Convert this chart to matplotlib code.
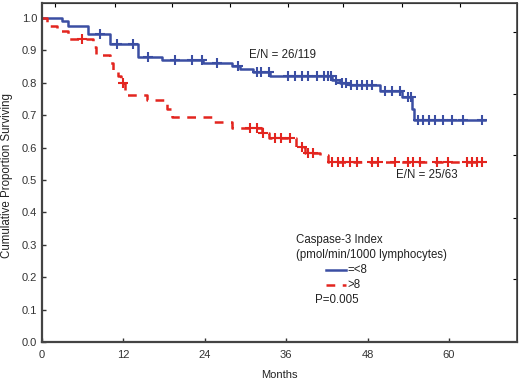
import numpy as np
import matplotlib
matplotlib.use("Agg")
import matplotlib.pyplot as plt

plt.rcParams["font.family"] = ["Liberation Sans", "DejaVu Sans"]

# Kaplan-Meier step data (months, proportion surviving)
low_t = [0, 2.9, 3.8, 6.8, 10.0, 14.2, 17.7, 23.8, 28.0, 29.2, 31.1, 33.6,
         42.7, 43.9, 45.4, 49.8, 53.1, 54.5, 54.8, 65.3]
low_s = [1.0, 0.99, 0.975, 0.95, 0.92, 0.88, 0.87, 0.86, 0.852, 0.842, 0.833,
         0.82, 0.81, 0.80, 0.793, 0.775, 0.755, 0.72, 0.685, 0.685]
low_cens = [8.5, 11.0, 13.4, 15.6, 19.6, 22.1, 23.6, 25.8, 28.9, 31.7, 32.3,
            33.4, 36.2, 37.3, 38.3, 39.2, 40.5, 41.5, 42.2, 42.6, 43.4, 44.2,
            44.8, 45.6, 46.4, 47.1, 47.9, 48.7, 50.6, 51.6, 52.8, 54.0, 54.4,
            55.4, 56.2, 57.0, 58.0, 59.1, 60.4, 62.0, 64.8]

high_t = [0, 0.7, 2.2, 3.8, 7.5, 8.0, 10.0, 10.5, 11.2, 11.6, 12.3, 15.5,
          18.4, 19.1, 25.2, 28.0, 32.5, 33.5, 37.5, 38.8, 41.0, 42.2, 64.8]
high_s = [1.0, 0.975, 0.96, 0.935, 0.91, 0.885, 0.86, 0.84, 0.82, 0.80, 0.762,
          0.747, 0.72, 0.694, 0.68, 0.66, 0.645, 0.63, 0.602, 0.583, 0.577,
          0.556, 0.556]
high_cens = [5.9, 11.9, 30.7, 31.7, 32.6, 34.3, 35.3, 36.6, 38.3, 39.2, 40.0,
             42.7, 43.6, 44.3, 45.4, 46.4, 48.6, 49.5, 52.0, 53.9, 54.7, 55.7,
             58.2, 59.8, 62.6, 63.4, 64.1, 64.8]

x_ticks = [0, 12, 24, 36, 48, 60]
y_ticks = [0.0, 0.1, 0.2, 0.3, 0.4, 0.5, 0.6, 0.7, 0.8, 0.9, 1.0]

BLUE = "#3b4ea3"
RED = "#e3251f"
TXT = "#222222"


def surv_at(times, steps, surv):
    idx = np.searchsorted(steps, times, side="right") - 1
    return np.asarray(surv)[idx]


fig = plt.figure(figsize=(5.2, 3.81), dpi=100)
ax = fig.add_axes([0.0808, 0.1024, 0.9132, 0.8896])

ax.step(low_t, low_s, where="post", color=BLUE, lw=1.8)
ax.plot(low_cens, surv_at(low_cens, low_t, low_s), "+", color=BLUE,
        ms=7, mew=1.5)
ax.step(high_t, high_s, where="post", color=RED, lw=1.8, dashes=(3.5, 3))
ax.plot(high_cens, surv_at(high_cens, high_t, high_s), "+", color=RED,
        ms=7, mew=1.5)

ax.set_xlim(0, 70)
ax.set_ylim(0, 1.046)
ax.set_xticks(x_ticks)
ax.set_yticks(y_ticks)
ax.set_yticklabels([f"{v:.1f}" for v in y_ticks])
ax.tick_params(direction="in", length=3, width=1, labelsize=8,
               colors="#333333")
ax.tick_params(axis="x", pad=6)
for side in ("left", "bottom"):
    ax.spines[side].set_linewidth(1.6)
    ax.spines[side].set_color("#444444")
for side in ("top", "right"):
    ax.spines[side].set_linewidth(1.2)
    ax.spines[side].set_color("#444444")

# secondary scales on top/right edges (unlabelled ticks as in original)
top = ax.secondary_xaxis("top")
top.set_xticks([1.9, 10.8, 19.2, 27.7, 36.2, 44.4, 53.1, 61.6])
top.tick_params(direction="in", length=3, labeltop=False)
right = ax.secondary_yaxis("right")
right.set_yticks([0.194, 0.383, 0.577, 0.765, 0.957])
right.tick_params(direction="in", length=3, labelright=False)

fig.text(0.014, 0.54, "Cumulative Proportion Surviving", rotation=90,
         ha="center", va="center", fontsize=8.3, color=TXT)
fig.text(0.537, 0.016, "Months", ha="center", va="center", fontsize=8,
         color=TXT)

ax.text(30.5, 0.875, "E/N = 26/119", fontsize=8.3, color=TXT)
ax.text(52.2, 0.505, "E/N = 25/63", fontsize=8.3, color=TXT)

ax.text(37.5, 0.305, "Caspase-3 Index", fontsize=8.3, color=TXT)
ax.text(37.5, 0.26, "(pmol/min/1000 lymphocytes)", fontsize=8.3, color=TXT)
ax.plot([41.8, 44.8], [0.222, 0.222], color=BLUE, lw=1.8)
ax.text(45.0, 0.222, "=<8", fontsize=8.3, va="center", color=TXT)
ax.plot([41.8, 44.8], [0.176, 0.176], color=RED, lw=1.8, dashes=(3.5, 3))
ax.text(45.0, 0.176, ">8", fontsize=8.3, va="center", color=TXT)
ax.text(40.2, 0.12, "P=0.005", fontsize=8.3, color=TXT)

fig.savefig("out.png", dpi=100)
